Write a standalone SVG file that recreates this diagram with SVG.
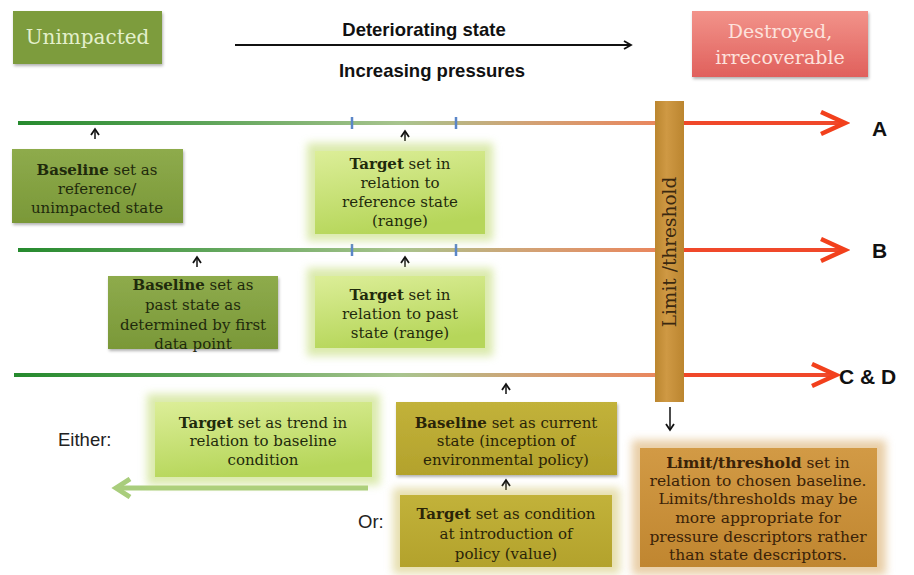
<svg xmlns="http://www.w3.org/2000/svg" width="914" height="575" viewBox="0 0 914 575">
<defs>
<style>
.bx{font-family:"DejaVu Serif","Liberation Serif",serif;font-size:15px;text-anchor:middle;}
.dk{fill:#1f2a0c;}
.b{font-weight:bold;}
.sans{font-family:"Liberation Sans",Arial,sans-serif;}
.glow{filter:url(#blur);}
</style>
<filter id="blur" x="-20%" y="-30%" width="140%" height="160%"><feGaussianBlur stdDeviation="4"/></filter>
<filter id="shadow" x="-10%" y="-10%" width="130%" height="140%"><feDropShadow dx="1" dy="2" stdDeviation="1.5" flood-color="#000" flood-opacity="0.3"/></filter>
<linearGradient id="lineG" gradientUnits="userSpaceOnUse" x1="18" y1="0" x2="655" y2="0">
<stop offset="0" stop-color="#268a2e"/>
<stop offset="0.3" stop-color="#5fa55a"/>
<stop offset="0.6" stop-color="#a8c48e"/>
<stop offset="0.8" stop-color="#d2a275"/>
<stop offset="1" stop-color="#e9875e"/>
</linearGradient>
<linearGradient id="tgtG" x1="0" y1="0" x2="0.3" y2="1">
<stop offset="0" stop-color="#dcee98"/>
<stop offset="1" stop-color="#b6d65a"/>
</linearGradient>
<linearGradient id="baseG" x1="0" y1="0" x2="0" y2="1">
<stop offset="0" stop-color="#8eab4c"/>
<stop offset="1" stop-color="#7a9838"/>
</linearGradient>
<linearGradient id="mustG" x1="0" y1="0" x2="0" y2="1">
<stop offset="0" stop-color="#c2b23a"/>
<stop offset="1" stop-color="#b3a22c"/>
</linearGradient>
<linearGradient id="limG" x1="0" y1="0" x2="0" y2="1">
<stop offset="0" stop-color="#d29a45"/>
<stop offset="1" stop-color="#c08630"/>
</linearGradient>
<linearGradient id="barG" x1="0" y1="0" x2="1" y2="0">
<stop offset="0" stop-color="#bb862f"/>
<stop offset="0.4" stop-color="#cf9944"/>
<stop offset="1" stop-color="#bb852f"/>
</linearGradient>
<linearGradient id="redG" x1="0" y1="0" x2="0" y2="1">
<stop offset="0" stop-color="#f2938a"/>
<stop offset="1" stop-color="#e0605c"/>
</linearGradient>
<marker id="redHead" markerUnits="userSpaceOnUse" markerWidth="32" markerHeight="28" refX="27" refY="13" orient="auto">
<path d="M3,2 L27,13 L3,24" fill="none" stroke="#f2401c" stroke-width="4.5" stroke-linejoin="miter"/>
</marker>
<marker id="blkHead" markerUnits="userSpaceOnUse" markerWidth="12" markerHeight="10" refX="9" refY="5" orient="auto">
<path d="M2,1 L9,5 L2,9" fill="none" stroke="#111" stroke-width="1.8"/>
</marker>
<marker id="smallHead" markerUnits="userSpaceOnUse" markerWidth="10" markerHeight="10" refX="7" refY="5" orient="auto">
<path d="M1,1 L7,5 L1,9" fill="none" stroke="#111" stroke-width="1.8"/>
</marker>
<marker id="greenHead" markerUnits="userSpaceOnUse" markerWidth="22" markerHeight="22" refX="17" refY="11" orient="auto">
<path d="M3,2 L17,11 L3,20" fill="none" stroke="#a9cd7c" stroke-width="5"/>
</marker>
</defs>

<g id="connectors">
<line x1="235" y1="45" x2="631" y2="45" stroke="#111" stroke-width="2" marker-end="url(#blkHead)"/>
<line x1="18" y1="123" x2="656" y2="123" stroke="url(#lineG)" stroke-width="4"/>
<line x1="684" y1="123" x2="845" y2="123" stroke="#f0482a" stroke-width="4" marker-end="url(#redHead)"/>
<line x1="18" y1="250" x2="656" y2="250" stroke="url(#lineG)" stroke-width="4"/>
<line x1="684" y1="250" x2="845" y2="250" stroke="#f0482a" stroke-width="4" marker-end="url(#redHead)"/>
<line x1="14" y1="375" x2="656" y2="375" stroke="url(#lineG)" stroke-width="4"/>
<line x1="684" y1="375" x2="836" y2="375" stroke="#f0482a" stroke-width="4" marker-end="url(#redHead)"/>
<g stroke="#5a86c8" stroke-width="2.5">
<line x1="352" y1="117" x2="352" y2="129"/>
<line x1="456" y1="117" x2="456" y2="129"/>
<line x1="352" y1="244" x2="352" y2="256"/>
<line x1="456" y1="244" x2="456" y2="256"/>
</g>
<g stroke="#111" stroke-width="1.5">
<line x1="95" y1="139" x2="95" y2="129" marker-end="url(#smallHead)"/>
<line x1="405" y1="141" x2="405" y2="131" marker-end="url(#smallHead)"/>
<line x1="197" y1="267" x2="197" y2="257" marker-end="url(#smallHead)"/>
<line x1="405" y1="267" x2="405" y2="257" marker-end="url(#smallHead)"/>
<line x1="506" y1="394" x2="506" y2="384" marker-end="url(#smallHead)"/>
<line x1="506" y1="490" x2="506" y2="480" marker-end="url(#smallHead)"/>
<line x1="670" y1="407" x2="670" y2="430" marker-end="url(#smallHead)"/>
</g>
<line x1="368" y1="488" x2="116" y2="488" stroke="#a9cd7c" stroke-width="5" marker-end="url(#greenHead)"/>
</g>

<g id="unimpacted">
<rect x="13" y="11" width="149" height="53" fill="#7d9c3c" filter="url(#shadow)"/>
<text x="87.5" y="44" class="bx" style="font-size:20px;fill:#e4f0cc">Unimpacted</text>
</g>

<g id="destroyed">
<rect x="692" y="11" width="176" height="66" fill="url(#redG)" filter="url(#shadow)"/>
<text class="bx" style="font-size:19px;fill:#fde2dc"><tspan x="780" y="38">Destroyed,</tspan><tspan x="780" y="64">irrecoverable</tspan></text>
</g>

<g id="header-labels">
<text x="424" y="36" class="sans" style="font-size:18.5px;font-weight:bold;text-anchor:middle;fill:#111">Deteriorating state</text>
<text x="432" y="77" class="sans" style="font-size:18.5px;font-weight:bold;text-anchor:middle;fill:#111">Increasing pressures</text>
</g>

<g id="limit-bar">
<rect x="655" y="101" width="29" height="301" fill="url(#barG)"/>
<text transform="translate(676,252) rotate(-90)" class="bx" style="font-size:18.5px;fill:#3a2810">Limit /threshold</text>
</g>

<g id="label-A"><text x="872" y="136" class="sans" style="font-size:21px;font-weight:bold;fill:#111">A</text></g>
<g id="label-B"><text x="872" y="258" class="sans" style="font-size:21px;font-weight:bold;fill:#111">B</text></g>
<g id="label-CD"><text x="839" y="384" class="sans" style="font-size:21px;font-weight:bold;fill:#111">C &amp; D</text></g>

<g id="baseline-ref">
<rect x="12" y="149" width="171" height="74" fill="url(#baseG)" filter="url(#shadow)"/>
<text class="bx dk"><tspan x="97" y="175"><tspan class="b">Baseline</tspan> set as</tspan><tspan x="97" y="194">reference/</tspan><tspan x="97" y="213">unimpacted state</tspan></text>
</g>

<g id="target-ref">
<rect x="307" y="143" width="186" height="98" fill="#c2dc76" opacity="0.6" class="glow"/>
<rect x="315" y="151" width="170" height="83" fill="url(#tgtG)"/>
<text class="bx dk"><tspan x="400" y="169"><tspan class="b">Target</tspan> set in</tspan><tspan x="400" y="188">relation to</tspan><tspan x="400" y="207">reference state</tspan><tspan x="400" y="226">(range)</tspan></text>
</g>

<g id="baseline-past">
<rect x="108" y="276" width="170" height="73" fill="url(#baseG)" filter="url(#shadow)"/>
<text class="bx dk"><tspan x="193" y="290"><tspan class="b">Baseline</tspan> set as</tspan><tspan x="193" y="310">past state as</tspan><tspan x="193" y="330">determined by first</tspan><tspan x="193" y="349">data point</tspan></text>
</g>

<g id="target-past">
<rect x="307" y="268" width="186" height="88" fill="#c2dc76" opacity="0.6" class="glow"/>
<rect x="315" y="276" width="170" height="72" fill="url(#tgtG)"/>
<text class="bx dk"><tspan x="400" y="300"><tspan class="b">Target</tspan> set in</tspan><tspan x="400" y="319">relation to past</tspan><tspan x="400" y="338">state (range)</tspan></text>
</g>

<g id="target-trend">
<rect x="147" y="394" width="233" height="91" fill="#c2dc76" opacity="0.6" class="glow"/>
<rect x="155" y="402" width="217" height="75" fill="url(#tgtG)"/>
<text class="bx dk"><tspan x="263" y="428"><tspan class="b">Target</tspan> set  as trend in</tspan><tspan x="263" y="446">relation to baseline</tspan><tspan x="263" y="465">condition</tspan></text>
</g>

<g id="baseline-current">
<rect x="396" y="402" width="221" height="73" fill="url(#mustG)" filter="url(#shadow)"/>
<text class="bx" style="fill:#2a2408"><tspan x="506" y="428"><tspan class="b">Baseline</tspan> set as current</tspan><tspan x="506" y="446">state  (inception of</tspan><tspan x="506" y="465">environmental policy)</tspan></text>
</g>

<g id="target-condition">
<rect x="393" y="488" width="227" height="86" fill="#cfc060" opacity="0.5" class="glow"/>
<rect x="400" y="495" width="212" height="72" fill="url(#mustG)"/>
<text class="bx" style="fill:#2a2408"><tspan x="506" y="519"><tspan class="b">Target</tspan> set as condition</tspan><tspan x="506" y="539">at introduction of</tspan><tspan x="506" y="559">policy (value)</tspan></text>
</g>

<g id="either-label"><text x="58" y="446" class="sans" style="font-size:18.5px;fill:#222">Either:</text></g>
<g id="or-label"><text x="358" y="528" class="sans" style="font-size:18.5px;fill:#222">Or:</text></g>

<g id="limit-box">
<rect x="632" y="440" width="254" height="135" fill="#d8a860" opacity="0.55" class="glow"/>
<rect x="640" y="448" width="237" height="119" fill="url(#limG)"/>
<text class="bx" style="fill:#3a2208;font-size:15.5px"><tspan x="758" y="468"><tspan class="b">Limit/threshold</tspan> set in</tspan><tspan x="758" y="486">relation to chosen baseline.</tspan><tspan x="758" y="504">Limits/thresholds may be</tspan><tspan x="758" y="523">more appropriate for</tspan><tspan x="758" y="542">pressure descriptors rather</tspan><tspan x="758" y="560">than state descriptors.</tspan></text>
</g>
</svg>
